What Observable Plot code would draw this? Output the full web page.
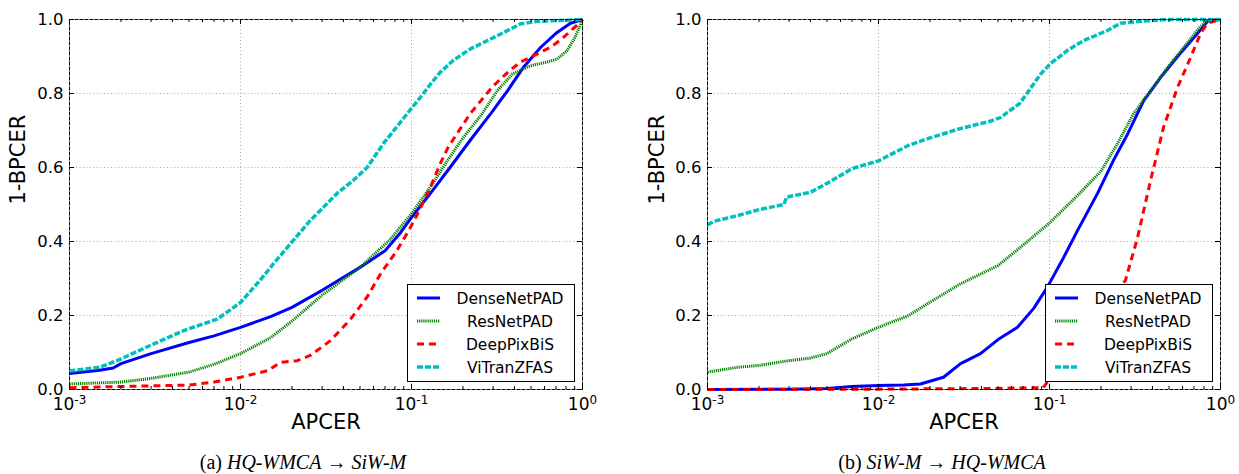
<!DOCTYPE html>
<html>
<head>
<meta charset="utf-8">
<script src="https://cdn.jsdelivr.net/npm/d3@7"></script>
<script src="https://cdn.jsdelivr.net/npm/@observablehq/plot@0.6"></script>
<style>
  html, body { margin: 0; padding: 0; background: #fff; }
  #fig { position: relative; width: 1239px; height: 474px; }
  .panel { position: absolute; top: 0; }
  .cap { position: absolute; top: 451px; font-family: "Liberation Serif", "Times New Roman", serif; font-size: 20px; color: #000; white-space: nowrap; transform: translateX(-50%); }
</style>
</head>
<body>
<div id="fig"></div>
<script>
// ---------- series ----------
const seriesNames = ["DenseNetPAD", "ResNetPAD", "DeepPixBiS", "ViTranZFAS"];
const seriesColors = ["#0000ff", "#008000", "#ff0000", "#00bfbf"];

// ---------- axis ticks ----------
const xMajorTicks = [0.001, 0.01, 0.1, 1];
const xTickBase = "10";
const xTickExponents = ["-3", "-2", "-1", "0"];
const xMinorTicks = [0.002,0.003,0.004,0.005,0.006,0.007,0.008,0.009,
                     0.02,0.03,0.04,0.05,0.06,0.07,0.08,0.09,
                     0.2,0.3,0.4,0.5,0.6,0.7,0.8,0.9];
const yTicks = [0, 0.2, 0.4, 0.6, 0.8, 1.0];

// ---------- panel (a) HQ-WMCA -> SiW-M ----------
const aDenseX = [0.001,0.0015,0.0018,0.002,0.003,0.005,0.007,0.01,0.015,0.02,0.03,0.05,0.07,0.085,0.1,0.129,0.168,0.22,0.29,0.365,0.45,0.57,0.71,0.85,1];
const aDenseY = [0.043,0.052,0.058,0.07,0.097,0.127,0.145,0.168,0.197,0.222,0.268,0.33,0.375,0.42,0.465,0.53,0.60,0.673,0.745,0.808,0.87,0.925,0.965,0.99,1];
const aResX = [0.001,0.002,0.003,0.005,0.007,0.01,0.015,0.02,0.03,0.05,0.075,0.1,0.129,0.163,0.2,0.254,0.318,0.39,0.496,0.62,0.71,0.81,0.9,0.97,1];
const aResY = [0.015,0.02,0.03,0.047,0.068,0.097,0.14,0.185,0.255,0.33,0.405,0.475,0.547,0.62,0.68,0.74,0.808,0.853,0.875,0.885,0.893,0.915,0.95,0.985,1];
const aDeepX = [0.001,0.002,0.005,0.007,0.01,0.0144,0.0171,0.0215,0.0256,0.0336,0.044,0.055,0.066,0.082,0.097,0.11,0.129,0.147,0.164,0.193,0.22,0.254,0.30,0.365,0.433,0.545,0.65,0.76,0.88,0.97,1];
const aDeepY = [0.005,0.008,0.012,0.02,0.033,0.051,0.073,0.078,0.092,0.132,0.19,0.25,0.313,0.375,0.432,0.48,0.547,0.61,0.655,0.705,0.745,0.78,0.82,0.857,0.885,0.907,0.925,0.948,0.975,0.992,1];
const aVitX = [0.001,0.0015,0.0019,0.003,0.0047,0.0073,0.01,0.013,0.0156,0.0196,0.0256,0.0293,0.0367,0.0456,0.055,0.0686,0.086,0.098,0.113,0.129,0.147,0.176,0.22,0.278,0.347,0.433,0.545,1];
const aVitY = [0.05,0.06,0.078,0.12,0.16,0.19,0.235,0.295,0.34,0.394,0.457,0.484,0.53,0.565,0.60,0.665,0.722,0.755,0.79,0.825,0.857,0.89,0.92,0.943,0.965,0.988,0.995,1];

// ---------- panel (b) SiW-M -> HQ-WMCA ----------
const bDenseX = [0.001,0.003,0.005,0.007,0.01,0.014,0.0176,0.024,0.0302,0.0395,0.05,0.065,0.081,0.097,0.121,0.146,0.191,0.237,0.286,0.355,0.446,0.561,0.733,0.84,1];
const bDenseY = [0,0.001,0.003,0.008,0.011,0.012,0.015,0.033,0.07,0.097,0.135,0.168,0.22,0.276,0.357,0.43,0.53,0.62,0.69,0.78,0.843,0.9,0.962,0.995,1];
const bResX = [0.001,0.0015,0.002,0.003,0.004,0.005,0.007,0.01,0.015,0.02,0.03,0.05,0.07,0.1,0.15,0.2,0.25,0.31,0.39,0.49,0.61,0.76,0.85,1];
const bResY = [0.047,0.06,0.065,0.078,0.085,0.097,0.137,0.168,0.2,0.236,0.285,0.335,0.39,0.45,0.53,0.59,0.665,0.745,0.808,0.87,0.925,0.98,1,1];
const bDeepX = [0.001,0.01,0.05,0.092,0.097,0.278,0.327,0.39,0.464,0.56,0.668,0.764,0.84,1];
const bDeepY = [0,0.001,0.003,0.005,0.02,0.295,0.41,0.565,0.708,0.816,0.897,0.962,0.99,1];
const bVitX = [0.001,0.0011,0.0015,0.002,0.0028,0.0029,0.004,0.005,0.007,0.01,0.015,0.02,0.03,0.045,0.0516,0.067,0.078,0.089,0.101,0.127,0.158,0.218,0.26,0.34,0.49,1];
const bVitY = [0.445,0.455,0.47,0.486,0.50,0.52,0.533,0.557,0.597,0.618,0.66,0.68,0.705,0.725,0.735,0.773,0.816,0.853,0.88,0.916,0.943,0.97,0.99,0.995,1,1];

// ---------- captions / labels ----------
const xLabel = "APCER";
const yLabel = "1-BPCER";
const captionA = ["(a) ", "HQ-WMCA", " \u2192 ", "SiW-M"];
const captionB = ["(b) ", "SiW-M", " \u2192 ", "HQ-WMCA"];

// line styles per series (same order as seriesNames)
const lineStyles = [
  {strokeWidth: 3, strokeDasharray: null},
  {strokeWidth: 3, strokeDasharray: "1.2,0.9"},
  {strokeWidth: 3, strokeDasharray: "7,5"},
  {strokeWidth: 3.5, strokeDasharray: "6,2"}
];

function zip(xs, ys) { return xs.map((x, i) => ({x, y: ys[i]})); }

function makePanel(seriesXY, cfg) {
  const H = 440, mt = 19, mb = 51;
  const plotH = H - mt - mb;
  const plotW = cfg.width - cfg.marginLeft - cfg.marginRight;
  const marks = [
    Plot.gridX(xMajorTicks, {stroke: "#a8a8a8", strokeOpacity: 1, strokeDasharray: "1,2.5"}),
    Plot.gridY(yTicks, {stroke: "#a8a8a8", strokeOpacity: 1, strokeDasharray: "1,2.5"})
  ];
  seriesXY.forEach(([xs, ys], i) => {
    const st = lineStyles[i];
    const o = {x: "x", y: "y", stroke: seriesColors[i], strokeWidth: st.strokeWidth, strokeLinecap: "butt", strokeLinejoin: "round"};
    if (st.strokeDasharray) o.strokeDasharray = st.strokeDasharray;
    marks.push(Plot.line(zip(xs, ys), o));
  });
  marks.push(
    Plot.frame({stroke: "#000", strokeWidth: 1, strokeDasharray: "4,1"}),
    // inward ticks
    Plot.tickX(xMajorTicks, {x: d => d, insetTop: plotH - 5, stroke: "#000"}),
    Plot.tickX(xMajorTicks, {x: d => d, insetBottom: plotH - 5, stroke: "#000"}),
    Plot.tickX(xMinorTicks, {x: d => d, insetTop: plotH - 3, stroke: "#000"}),
    Plot.tickX(xMinorTicks, {x: d => d, insetBottom: plotH - 3, stroke: "#000"}),
    Plot.tickY(yTicks, {y: d => d, insetRight: plotW - 5, stroke: "#000"}),
    Plot.tickY(yTicks, {y: d => d, insetLeft: plotW - 5, stroke: "#000"}),
    Plot.axisX(xMajorTicks, {tickSize: 0, tickPadding: 8, fontSize: 17, label: null,
      tickFormat: d => "XT" + xMajorTicks.indexOf(d)}),
    Plot.axisY(yTicks, {tickSize: 0, tickPadding: 6, fontSize: 16.5, label: null, tickFormat: d3.format(".1f")}),
    Plot.text([xLabel], {frameAnchor: "bottom", dy: 39, fontSize: 21, text: d => d}),
    Plot.text([yLabel], {frameAnchor: "left", dx: -cfg.yLabelOffset, rotate: -90, fontSize: 21, text: d => d})
  );
  const svg = Plot.plot({
    width: cfg.width, height: H,
    marginLeft: cfg.marginLeft, marginRight: cfg.marginRight, marginTop: mt, marginBottom: mb,
    x: {type: "log", domain: [0.001, 1]},
    y: {domain: [0, 1]},
    style: {fontFamily: "'DejaVu Sans', sans-serif", fontSize: "16.5px", color: "#000", background: "transparent", overflow: "visible"},
    marks
  });
  // rebuild x tick labels as base + superscript exponent
  d3.select(svg).selectAll("text").each(function() {
    const t = this.textContent;
    const m = /^XT(\d)$/.exec(t);
    if (!m) return;
    const i = +m[1];
    const sel = d3.select(this);
    sel.text(null);
    sel.append("tspan").text(xTickBase);
    sel.append("tspan").attr("font-size", 12).attr("dy", "-0.45em").text(xTickExponents[i]);
  });
  // legend
  const bw = 167, bh = 97;
  const bx = cfg.width - cfg.marginRight - 8 - bw;
  const by = H - mb - 8 - bh;
  const g = d3.select(svg).append("g").attr("transform", `translate(${bx},${by})`);
  g.append("rect").attr("x", 0.5).attr("y", 0.5).attr("width", bw).attr("height", bh)
    .attr("fill", "#fff").attr("stroke", "#000").attr("stroke-width", 1);
  seriesNames.forEach((name, i) => {
    const cy = 14 + i * 23;
    const st = lineStyles[i];
    const ln = g.append("line").attr("x1", 10).attr("x2", 33).attr("y1", cy).attr("y2", cy)
      .attr("stroke", seriesColors[i]).attr("stroke-width", st.strokeWidth);
    if (st.strokeDasharray) ln.attr("stroke-dasharray", st.strokeDasharray);
    g.append("text").attr("x", 103).attr("y", cy).attr("dy", "0.36em")
      .attr("text-anchor", "middle").attr("font-size", 15.5)
      .attr("font-family", "'DejaVu Sans', sans-serif").attr("fill", "#000").text(name);
  });
  return svg;
}

const fig = document.getElementById("fig");

const svgA = makePanel(
  [[aDenseX, aDenseY], [aResX, aResY], [aDeepX, aDeepY], [aVitX, aVitY]],
  {width: 620, marginLeft: 69, marginRight: 38, yLabelOffset: 51}
);
const wrapA = document.createElement("div");
wrapA.className = "panel"; wrapA.style.left = "0px";
wrapA.appendChild(svgA);
fig.appendChild(wrapA);

const svgB = makePanel(
  [[bDenseX, bDenseY], [bResX, bResY], [bDeepX, bDeepY], [bVitX, bVitY]],
  {width: 619, marginLeft: 87, marginRight: 19, yLabelOffset: 50}
);
const wrapB = document.createElement("div");
wrapB.className = "panel"; wrapB.style.left = "620px";
wrapB.appendChild(svgB);
fig.appendChild(wrapB);

function addCaption(parts, cx) {
  const d = document.createElement("div");
  d.className = "cap";
  d.style.left = cx + "px";
  parts.forEach((p, i) => {
    const s = document.createElement("span");
    s.textContent = p;
    if (i === 1 || i === 3) s.style.fontStyle = "italic";
    d.appendChild(s);
  });
  fig.appendChild(d);
}
addCaption(captionA, 303);
addCaption(captionB, 942);
</script>
</body>
</html>
